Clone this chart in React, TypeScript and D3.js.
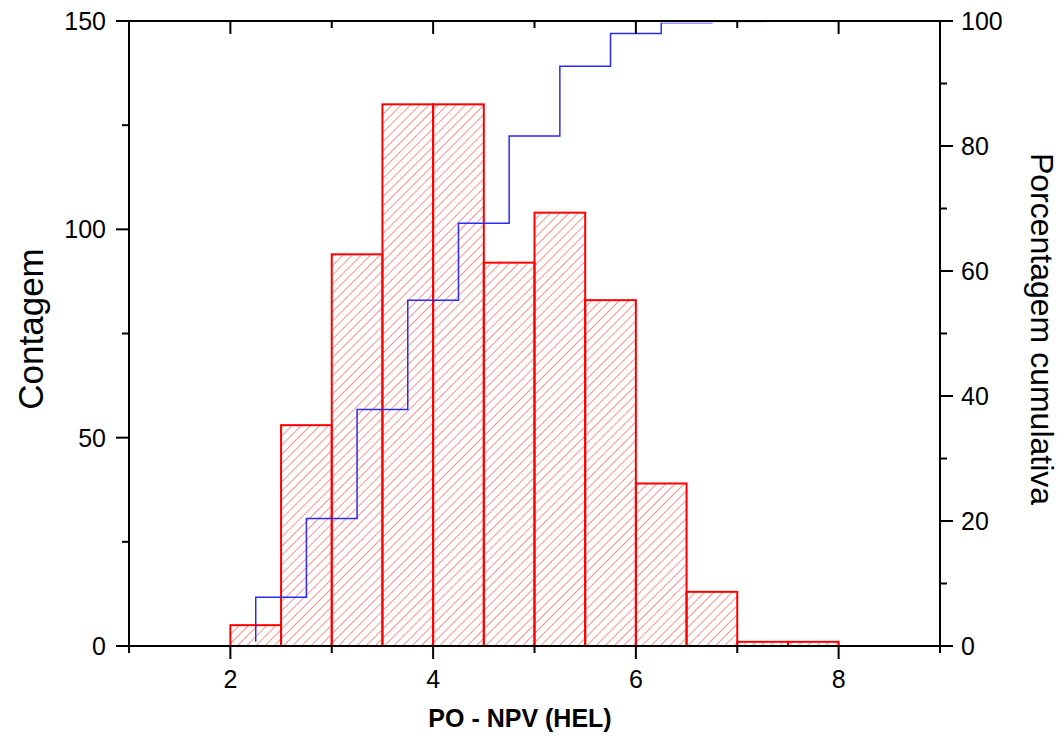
import React from "react";
import * as d3 from "d3";

// histogram bins (PO - NPV), width 0.5
const binStart = [2, 2.5, 3, 3.5, 4, 4.5, 5, 5.5, 6, 6.5, 7, 7.5];
const counts = [5, 53, 94, 130, 130, 92, 104, 83, 39, 13, 1, 1];
const binWidth = 0.5;

const xTicks = [1, 2, 3, 4, 5, 6, 7, 8, 9];
const xLabels = [2, 4, 6, 8];
const leftTicks = [0, 25, 50, 75, 100, 125, 150];
const leftLabels = [0, 50, 100, 150];
const rightTicks = [0, 10, 20, 30, 40, 50, 60, 70, 80, 90, 100];
const rightLabels = [0, 20, 40, 60, 80, 100];

const W = 1062;
const H = 738;
const plot = { left: 129, right: 940, top: 21, bottom: 646 };
const font = "'Liberation Sans', Arial, sans-serif";

export default function App() {
  const x = d3.scaleLinear().domain([1, 9]).range([plot.left, plot.right]);
  const yL = d3.scaleLinear().domain([0, 150]).range([plot.bottom, plot.top]);
  const yR = d3.scaleLinear().domain([0, 100]).range([plot.bottom, plot.top]);

  const total = d3.sum(counts);
  const cum = d3.cumsum(counts).map((c) => (c / total) * 100);
  const cumPts: [number, number][] = binStart.map((b, i) => [b + binWidth / 2, cum[i]]);

  const line = d3
    .line<[number, number]>()
    .x((d) => x(d[0]))
    .y((d) => yR(d[1]))
    .curve(d3.curveStepBefore);

  const major = 13;
  const minor = 7;

  return (
    <div style={{ position: "absolute", left: 0, top: 0 }}>
      <svg width={W} height={H} style={{ display: "block", background: "#fff" }}>
        <defs>
          <pattern id="hatch" patternUnits="userSpaceOnUse" width="6.5" height="6.5" patternTransform="rotate(45)">
            <line x1="0" y1="0" x2="0" y2="6.5" stroke="#ff4a4a" strokeWidth="1.2" />
          </pattern>
          <clipPath id="inner">
            <rect x={plot.left} y={plot.top + 1.8} width={plot.right - plot.left} height={plot.bottom - plot.top} />
          </clipPath>
        </defs>

        {/* bars */}
        {binStart.map((b, i) => (
          <rect
            key={b}
            x={x(b)}
            y={yL(counts[i])}
            width={x(b + binWidth) - x(b)}
            height={yL(0) - yL(counts[i])}
            fill="url(#hatch)"
            stroke="#ff0000"
            strokeWidth={2}
          />
        ))}

        {/* cumulative percentage */}
        <path d={line(cumPts) ?? ""} fill="none" stroke="#2a2aff" strokeWidth={1.5} clipPath="url(#inner)" />

        {/* frame */}
        <g stroke="#000" strokeWidth={2} fill="none">
          <line x1={plot.left} x2={plot.right} y1={plot.bottom} y2={plot.bottom} />
          <line x1={plot.left} x2={plot.right} y1={plot.top} y2={plot.top} />
          <line x1={plot.left} x2={plot.left} y1={plot.top} y2={plot.bottom} />
          <line x1={plot.right} x2={plot.right} y1={plot.top} y2={plot.bottom} />
        </g>

        {/* ticks */}
        <g stroke="#000" strokeWidth={2}>
          {xTicks.map((t) => {
            const len = xLabels.includes(t) ? major : minor;
            return (
              <g key={t}>
                <line x1={x(t)} x2={x(t)} y1={plot.bottom} y2={plot.bottom + len} />
                <line x1={x(t)} x2={x(t)} y1={plot.top} y2={plot.top + len} />
              </g>
            );
          })}
          {leftTicks.map((t) => (
            <line key={t} x1={plot.left - (leftLabels.includes(t) ? major : minor)} x2={plot.left} y1={yL(t)} y2={yL(t)} />
          ))}
          {rightTicks.map((t) => (
            <line key={t} x1={plot.right} x2={plot.right + (rightLabels.includes(t) ? major : minor)} y1={yR(t)} y2={yR(t)} />
          ))}
        </g>

        <g fontFamily={font} fontSize={25} fill="#000">
          {xLabels.map((t) => (
            <text key={t} x={x(t)} y={plot.bottom + 42} textAnchor="middle">{t}</text>
          ))}
          {leftLabels.map((t) => (
            <text key={t} x={plot.left - 23} y={yL(t)} dy="0.36em" textAnchor="end">{t}</text>
          ))}
          {rightLabels.map((t) => (
            <text key={t} x={plot.right + 21} y={yR(t)} dy="0.36em" textAnchor="start">{t}</text>
          ))}
        </g>

        <text x={520} y={727} textAnchor="middle" fontFamily={font} fontWeight="bold" fontSize={25}>
          PO - NPV (HEL)
        </text>
        <text transform={`translate(43, 329) rotate(-90)`} textAnchor="middle" fontFamily={font} fontSize={35}>
          Contagem
        </text>
        <text transform={`translate(1031, 329) rotate(90)`} textAnchor="middle" fontFamily={font} fontSize={32}>
          Porcentagem cumulativa
        </text>
      </svg>
    </div>
  );
}
